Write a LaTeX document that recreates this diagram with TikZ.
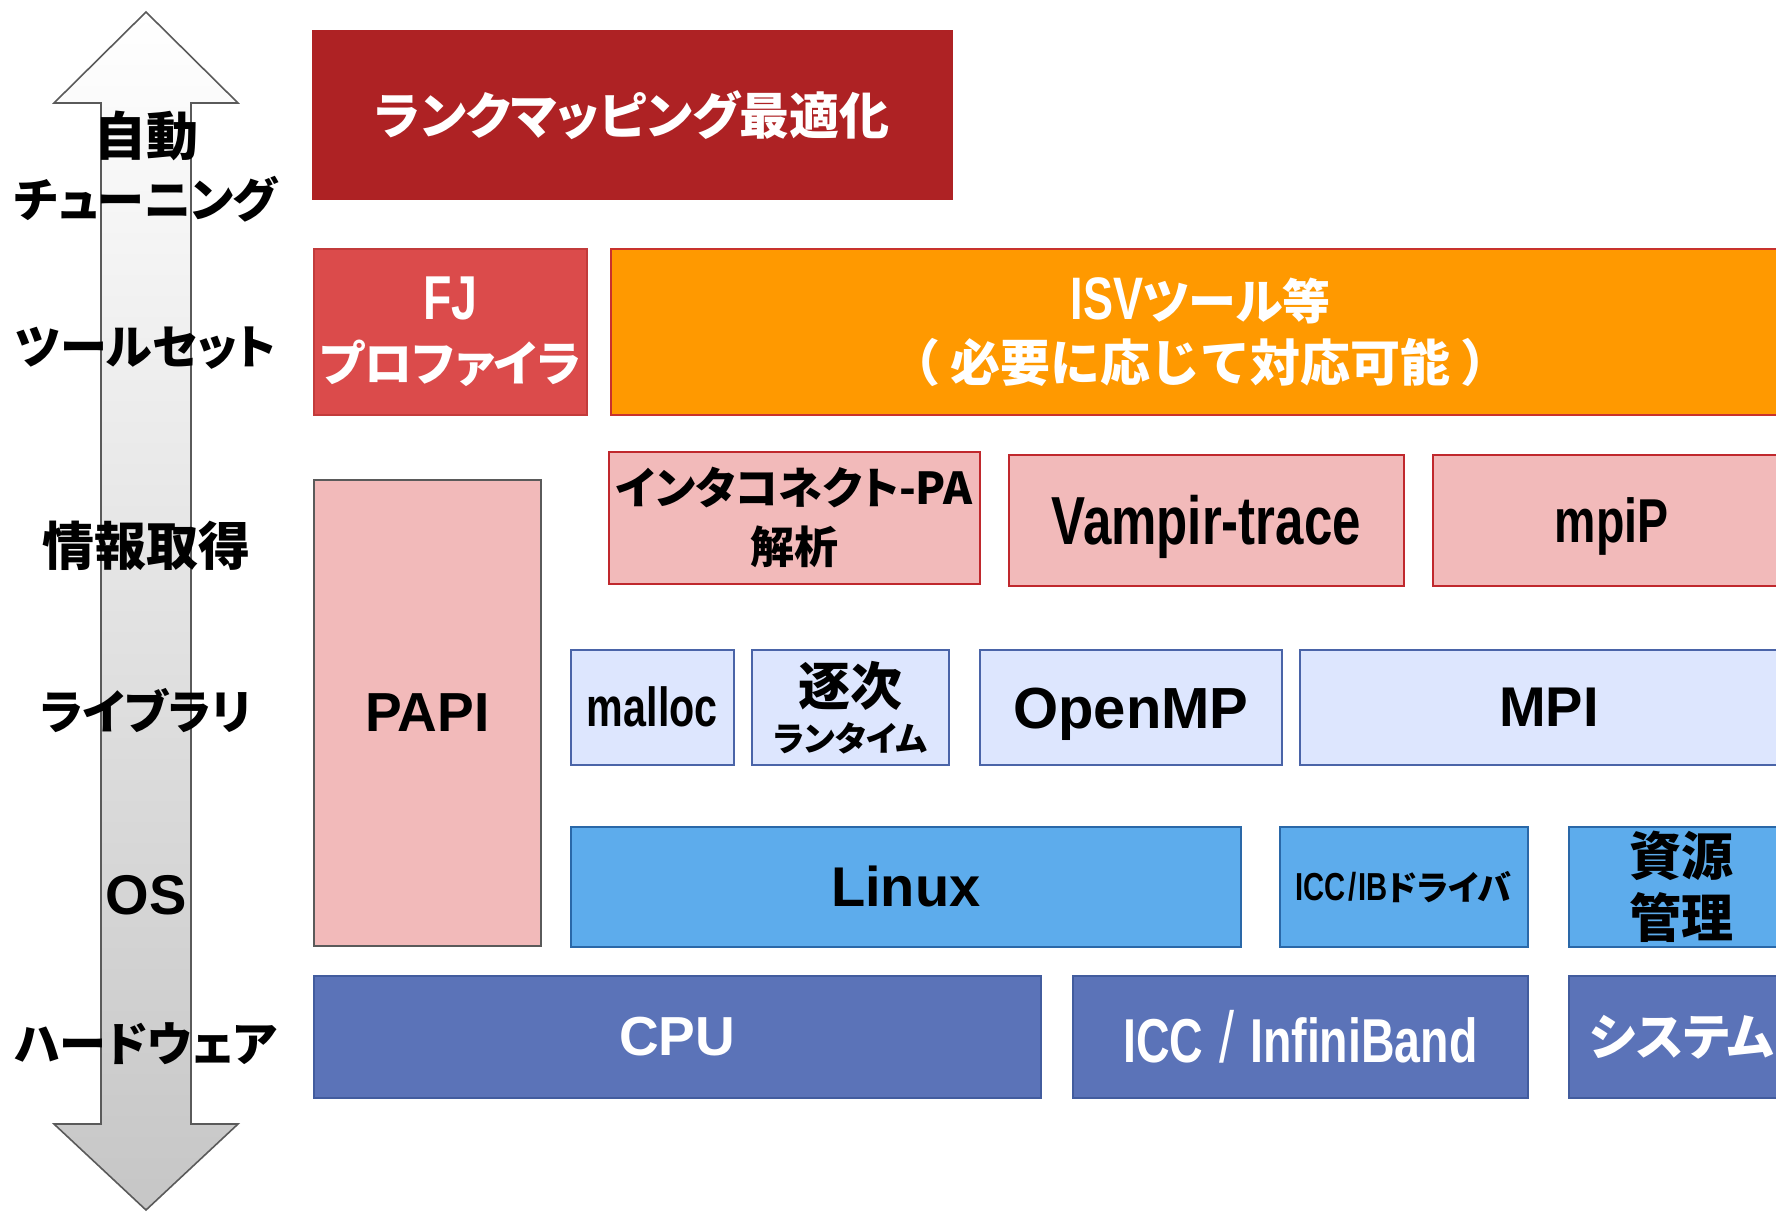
\documentclass[tikz,border=0pt]{standalone}
\usepackage{fontspec}
\usepackage{xcolor}
\usepackage{tikz}
\usetikzlibrary{positioning}

\newfontfamily\jpfont{Noto Sans CJK JP}[RawFeature=+palt]
\newfontfamily\jpwidefont{Noto Sans CJK JP}
\newfontfamily\arialfont{Liberation Sans}
\newfontfamily\narrowfont{Liberation Sans}[FakeStretch=0.75]

% font switches: size, baseline skip
\newcommand{\jpsize}[2]{\jpfont\bfseries\fontsize{#1}{#2}\selectfont}
\newcommand{\arsize}[1]{\arialfont\bfseries\fontsize{#1}{#1}\selectfont}
\newcommand{\nrsize}[1]{\narrowfont\bfseries\fontsize{#1}{#1}\selectfont}

\definecolor{rankred}{HTML}{AE2224}
\definecolor{fjred}{HTML}{DB4B4B}
\definecolor{fjline}{HTML}{C23B3B}
\definecolor{isvorange}{HTML}{FF9900}
\definecolor{isvline}{HTML}{C8322D}
\definecolor{infopink}{HTML}{F2BABA}
\definecolor{infoline}{HTML}{C0282D}
\definecolor{papiline}{HTML}{5A5A5A}
\definecolor{libblue}{HTML}{DDE6FE}
\definecolor{libline}{HTML}{4A64A8}
\definecolor{osblue}{HTML}{5DACEC}
\definecolor{osline}{HTML}{2A68A8}
\definecolor{hwblue}{HTML}{5B73B8}
\definecolor{hwline}{HTML}{425C9E}
\definecolor{arrowline}{HTML}{5A5A5A}
\definecolor{arrowgray}{HTML}{C6C6C6}

\tikzset{
  layer/.style={draw, line width=0.8pt, inner sep=0pt, anchor=north west, align=center},
  boxwh/.style 2 args={minimum width=#1*0.5pt, minimum height=#2*0.5pt},
  capcenter/.style={text height=#1, text depth=0pt},
  rankbox/.style={layer, fill=rankred, draw=rankred, text=white},
  fjbox/.style={layer, fill=fjred, draw=fjline, text=white},
  isvbox/.style={layer, fill=isvorange, draw=isvline, text=white},
  infobox/.style={layer, fill=infopink, draw=infoline},
  papibox/.style={layer, fill=infopink, draw=papiline},
  libbox/.style={layer, fill=libblue, draw=libline},
  osbox/.style={layer, fill=osblue, draw=osline},
  hwbox/.style={layer, fill=hwblue, draw=hwline, text=white},
  layerlabel/.style={align=center, inner sep=0pt, font=\jpsize{26}{31}},
  kanalabel/.style={layerlabel, font=\jpsize{23.5}{31}},
}

\begin{document}
\begin{tikzpicture}[x=0.5pt, y=-0.5pt]

\useasboundingbox (0,0) rectangle (1776,1211);
\clip (0,0) rectangle (1776,1211);

% Double arrow
\shadedraw[top color=white, bottom color=arrowgray, draw=arrowline, line width=0.8pt]
  (146,12) -- (238,103) -- (191,103) -- (191,1124) -- (238,1124) -- (146,1210)
  -- (54,1124) -- (101,1124) -- (101,103) -- (54,103) -- cycle;

% Layer labels
\node[layerlabel] (lbltune) at (146,167) {自動\\{\jpsize{23.5}{31}チューニング}};
\node[kanalabel] (lbltool) at (146,348) {ツールセット};
\node[layerlabel] (lblinfo) at (146,546) {情報取得};
\node[kanalabel] (lbllib) at (146,711) {ライブラリ};
\node[layerlabel, font=\arsize{28}] (lblos) at (146,895) {OS};
\node[kanalabel] (lblhw) at (146,1044) {ハードウェア};

% Auto tuning
\node[rankbox, boxwh={639}{168}, font=\jpsize{25}{30}] (rank) at (312,30) {ランクマッピング最適化};

% Tool set
\node[fjbox, boxwh={273}{166}, font=\jpsize{24}{31}] (fjprof) at (313,248)
  {{\nrsize{31}FJ}\\プロファイラ};
\node[isvbox, boxwh={1180}{166}, font=\jpsize{24}{31}] (isv) at (610,248)
  {{\nrsize{30}ISV}ツール等\\{\jpwidefont\fontsize{25}{31}\selectfont （\hspace{5pt}必要に応じて対応可能\hspace{5pt}）}};

% Information gathering
\node[papibox, boxwh={227}{466}, font=\arsize{27.5}] (papi) at (313,479) {PAPI};
\node[infobox, boxwh={371}{132}, font=\jpsize{22}{29.5}] (icpa) at (608,451)
  {インタコネクト-PA\\解析};
\node[infobox, boxwh={395}{131}, font=\nrsize{34}, capcenter=24.3pt] (vampir) at (1008,454)
  {Vampir-trace};
\node[infobox, boxwh={358}{131}, font=\nrsize{31}, capcenter=22.2pt] (mpip) at (1432,454)
  {mpiP};

% Libraries
\node[libbox, boxwh={163}{115}, font=\nrsize{27.5}] (malloc) at (570,649) {malloc};
\node[libbox, boxwh={197}{115}] (seqrt) at (751,649)
  {{\jpsize{26}{26}逐次}\\[5pt]{\jpsize{17}{17}ランタイム}};
\node[libbox, boxwh={302}{115}, font=\arsize{29}, capcenter=20.8pt] (openmp) at (979,649)
  {OpenMP};
\node[libbox, boxwh={498}{115}, font=\arsize{28}] (mpi) at (1299,649) {MPI};

% OS
\node[osbox, boxwh={670}{120}, font=\arsize{28}] (linux) at (570,826) {Linux};
\node[osbox, boxwh={248}{120}] (iccdrv) at (1279,826)
  {{\nrsize{19.5}ICC\hspace{1pt}/\hspace{1pt}IB}{\jpsize{17}{17}ドライバ}};
\node[osbox, boxwh={226}{120}, font=\jpsize{26}{31}] (rsrc) at (1568,826) {資源\\管理};

% Hardware
\node[hwbox, boxwh={727}{122}, font=\arsize{27.5}] (cpu) at (313,975) {CPU};
\node[hwbox, boxwh={455}{122}, font=\nrsize{31}] (iccib) at (1072,975)
  {ICC\hspace{8pt}{\fontsize{36}{36}\selectfont\mdseries /}\hspace{8pt}InfiniBand};
\node[hwbox, boxwh={226}{122}, font=\jpsize{25}{30}] (sys) at (1568,975) {システム};

\end{tikzpicture}
\end{document}
